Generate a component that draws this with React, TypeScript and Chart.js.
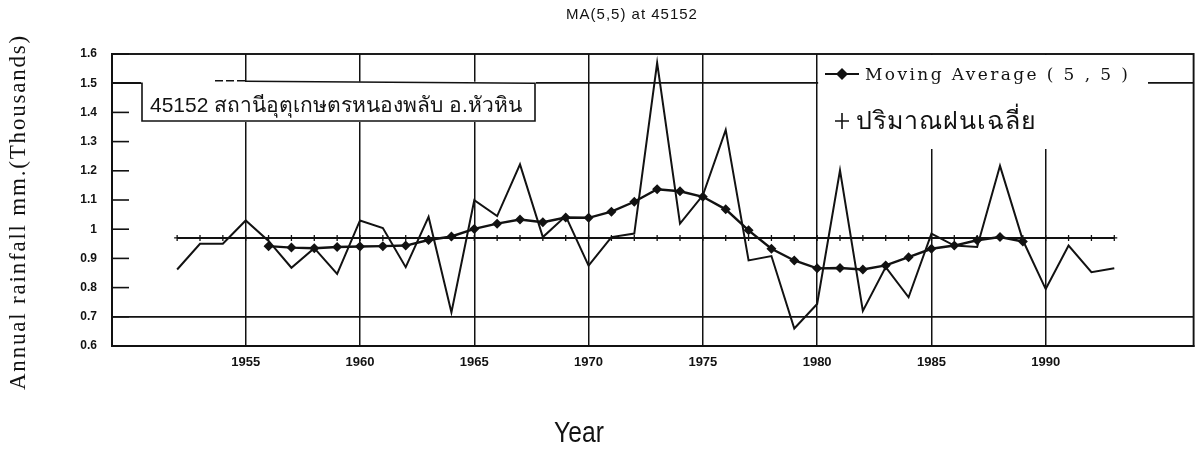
import React, { useEffect, useRef } from "react";
import { Chart, registerables } from "chart.js";

Chart.register(...registerables);

// ---------- data ----------
const years = [
  1952, 1953, 1954, 1955, 1956, 1957, 1958, 1959, 1960, 1961,
  1962, 1963, 1964, 1965, 1966, 1967, 1968, 1969, 1970, 1971,
  1972, 1973, 1974, 1975, 1976, 1977, 1978, 1979, 1980, 1981,
  1982, 1983, 1984, 1985, 1986, 1987, 1988, 1989, 1990, 1991,
  1992, 1993,
];
const rainfall = [
  0.862, 0.95, 0.95, 1.03, 0.96, 0.868, 0.935, 0.847, 1.03, 1.004,
  0.87, 1.042, 0.715, 1.099, 1.045, 1.222, 0.973, 1.045, 0.875, 0.973,
  0.985, 1.57, 1.019, 1.116, 1.34, 0.893, 0.908, 0.66, 0.744, 1.202,
  0.72, 0.87, 0.767, 0.985, 0.944, 0.939, 1.217, 0.962, 0.795, 0.944,
  0.853, 0.866,
];
const meanRainfall = [
  0.97, 0.97, 0.97, 0.97, 0.97, 0.97, 0.97, 0.97, 0.97, 0.97,
  0.97, 0.97, 0.97, 0.97, 0.97, 0.97, 0.97, 0.97, 0.97, 0.97,
  0.97, 0.97, 0.97, 0.97, 0.97, 0.97, 0.97, 0.97, 0.97, 0.97,
  0.97, 0.97, 0.97, 0.97, 0.97, 0.97, 0.97, 0.97, 0.97, 0.97,
  0.97, 0.97,
];
const maYears = [
  1956, 1957, 1958, 1959, 1960, 1961, 1962, 1963, 1964, 1965,
  1966, 1967, 1968, 1969, 1970, 1971, 1972, 1973, 1974, 1975,
  1976, 1977, 1978, 1979, 1980, 1981, 1982, 1983, 1984, 1985,
  1986, 1987, 1988, 1989,
];
const movingAverage = [
  0.942, 0.937, 0.935, 0.939, 0.941, 0.942, 0.944, 0.963, 0.975, 1.001,
  1.019, 1.033, 1.024, 1.04, 1.039, 1.06, 1.094, 1.137, 1.13, 1.111,
  1.068, 0.996, 0.933, 0.893, 0.866, 0.867, 0.862, 0.876, 0.904, 0.933,
  0.944, 0.962, 0.973, 0.958,
];
const xTickYears = [1955, 1960, 1965, 1970, 1975, 1980, 1985, 1990];
const yTickValues = [0.6, 0.7, 0.8, 0.9, 1.0, 1.1, 1.2, 1.3, 1.4, 1.5, 1.6];
const yTickLabels = ["0.6", "0.7", "0.8", "0.9", "1", "1.1", "1.2", "1.3", "1.4", "1.5", "1.6"];
const yGridValues = [0.7, 1.5];
const xRange = [1949.15, 1996.47];
const yRange = [0.6, 1.6];

const chartTitle = "MA(5,5) at 45152";
const xAxisTitle = "Year";
const yAxisTitle = "Annual rainfall mm.(Thousands)";
const stationLabel = "45152 สถานีอุตุเกษตรหนองพลับ อ.หัวหิน";
const legendLabels = ["Moving Average ( 5 , 5 )", "ปริมาณฝนเฉลี่ย"];

const INK = "#121212";

const decorPlugin = {
  id: "decor",
  beforeDatasetsDraw(chart: any) {
    const { ctx, chartArea: a, scales } = chart;
    const x = scales.x;
    const y = scales.y;
    ctx.save();
    ctx.strokeStyle = INK;
    ctx.fillStyle = INK;
    ctx.lineWidth = 1.6;
    // inner tick marks along the left border
    yTickValues.forEach((v) => {
      const py = y.getPixelForValue(v);
      ctx.beginPath();
      ctx.moveTo(a.left, py);
      ctx.lineTo(a.left + 17, py);
      ctx.stroke();
    });

    // station label box
    const top = y.getPixelForValue(1.5);
    const boxL = 142;
    const boxR = 535;
    const boxB = 121;
    ctx.fillStyle = "#fff";
    ctx.fillRect(boxL - 1, top - 1.5, boxR - boxL + 2, boxB - top + 2.5);
    ctx.strokeStyle = INK;
    ctx.lineWidth = 1.6;
    ctx.beginPath();
    ctx.moveTo(a.left, top);
    ctx.lineTo(boxL, top);
    ctx.lineTo(boxL, boxB);
    ctx.lineTo(boxR, boxB);
    ctx.lineTo(boxR, top);
    ctx.lineTo(245, top - 2);
    ctx.stroke();
    ctx.setLineDash([8, 3]);
    ctx.beginPath();
    ctx.moveTo(245, top - 2.5);
    ctx.lineTo(214, top - 2.5);
    ctx.stroke();
    ctx.setLineDash([]);
    ctx.fillStyle = INK;
    ctx.font = '21px "Liberation Sans", "Noto Sans", sans-serif';
    ctx.textBaseline = "alphabetic";
    ctx.textAlign = "left";
    ctx.fillText(stationLabel, 150, 112);

    // legend area
    const x80 = x.getPixelForValue(1980);
    ctx.fillStyle = "#fff";
    ctx.fillRect(x80 + 1, a.top + 1, 1148 - x80 - 1, 148 - a.top);
    ctx.fillStyle = INK;
    ctx.strokeStyle = INK;
    ctx.lineWidth = 2;
    ctx.beginPath();
    ctx.moveTo(825, 74);
    ctx.lineTo(859, 74);
    ctx.stroke();
    ctx.beginPath();
    ctx.moveTo(842, 68);
    ctx.lineTo(848, 74);
    ctx.lineTo(842, 80);
    ctx.lineTo(836, 74);
    ctx.closePath();
    ctx.fill();
    ctx.font = '17px "DejaVu Serif", "Liberation Serif", serif';
    (ctx as any).letterSpacing = "2.4px";
    ctx.fillText(legendLabels[0], 865, 80);
    (ctx as any).letterSpacing = "0px";
    ctx.lineWidth = 1.6;
    ctx.beginPath();
    ctx.moveTo(835, 121);
    ctx.lineTo(849, 121);
    ctx.moveTo(842, 113);
    ctx.lineTo(842, 129);
    ctx.stroke();
    ctx.font = '25px "Liberation Serif", "Noto Sans", serif';
    (ctx as any).letterSpacing = "1px";
    ctx.fillText(legendLabels[1], 856, 129);
    (ctx as any).letterSpacing = "0px";
    ctx.restore();
  },
  afterDraw(chart: any) {
    const { ctx, chartArea: a } = chart;
    ctx.save();
    ctx.strokeStyle = INK;
    ctx.lineWidth = 1.9;
    ctx.strokeRect(a.left, a.top, a.right - a.left, a.bottom - a.top);
    ctx.fillStyle = INK;
    ctx.textAlign = "center";
    ctx.textBaseline = "middle";
    // title
    ctx.font = '15px "Liberation Sans", Arial, sans-serif';
    (ctx as any).letterSpacing = "1px";
    ctx.fillText(chartTitle, 632, 15);
    // x axis title
    (ctx as any).letterSpacing = "0px";
    ctx.save();
    ctx.translate(579, 434);
    ctx.scale(0.85, 1);
    ctx.font = '29px "Liberation Sans", Arial, sans-serif';
    ctx.fillText(xAxisTitle, 0, 0);
    ctx.restore();
    // y axis title
    ctx.save();
    ctx.translate(19, 212);
    ctx.rotate(-Math.PI / 2);
    ctx.font = '23px "Liberation Serif", "Times New Roman", serif';
    (ctx as any).letterSpacing = "1.8px";
    ctx.fillText(yAxisTitle, 0, 0);
    ctx.restore();
    ctx.restore();
  },
};

export default function App() {
  const canvasRef = useRef<HTMLCanvasElement | null>(null);

  useEffect(() => {
    if (!canvasRef.current) return;
    const chart = new Chart(canvasRef.current, {
      type: "line",
      data: {
        datasets: [
          {
            label: "rainfall",
            data: years.map((yr, i) => ({ x: yr, y: rainfall[i] })),
            borderColor: INK,
            borderWidth: 2,
            pointRadius: 0,
            tension: 0,
            fill: false,
          },
          {
            label: legendLabels[1],
            data: years.map((yr, i) => ({ x: yr, y: meanRainfall[i] })),
            borderColor: INK,
            borderWidth: 2,
            pointStyle: "cross",
            pointRadius: 3,
            pointBorderWidth: 1.3,
            pointBorderColor: INK,
            tension: 0,
            fill: false,
          },
          {
            label: legendLabels[0],
            data: maYears.map((yr, i) => ({ x: yr, y: movingAverage[i] })),
            borderColor: INK,
            borderWidth: 2.4,
            pointStyle: "rectRot",
            pointRadius: 3.3,
            pointBackgroundColor: INK,
            pointBorderColor: INK,
            tension: 0,
            fill: false,
          },
        ],
      },
      options: {
        animation: false,
        responsive: false,
        layout: { padding: { top: 54, right: 5, bottom: 0, left: 0 } },
        plugins: {
          legend: { display: false },
          title: { display: false },
          tooltip: { enabled: false },
        },
        scales: {
          x: {
            type: "linear",
            min: xRange[0],
            max: xRange[1],
            afterBuildTicks: (s: any) => {
              s.ticks = xTickYears.map((v) => ({ value: v }));
            },
            afterFit: (s: any) => {
              s.height = 104;
            },
            grid: { color: INK, lineWidth: 1.5, drawTicks: false },
            border: { color: INK, width: 1.9 },
            ticks: {
              padding: 9,
              autoSkip: false,
              maxRotation: 0,
              color: INK,
              font: { family: '"Liberation Sans", Arial, sans-serif', size: 13, weight: "bold" },
              callback: (v: any) => String(v),
            },
          },
          y: {
            type: "linear",
            min: yRange[0],
            max: yRange[1],
            afterBuildTicks: (s: any) => {
              s.ticks = yTickValues.map((v) => ({ value: v }));
            },
            afterFit: (s: any) => {
              s.width = 112;
            },
            grid: {
              color: (c: any) =>
                c.tick && yGridValues.some((g) => Math.abs(g - c.tick.value) < 1e-6) ? INK : "rgba(0,0,0,0)",
              lineWidth: 1.7,
              drawTicks: false,
            },
            border: { color: INK, width: 1.9 },
            ticks: {
              padding: 15,
              color: INK,
              font: { family: '"Liberation Sans", Arial, sans-serif', size: 12, weight: "bold" },
              callback: (_v: any, i: number) => yTickLabels[i],
            },
          },
        },
      },
      plugins: [decorPlugin],
    });
    return () => chart.destroy();
  }, []);

  return (
    <div style={{ position: "absolute", left: 0, top: 0, width: 1200, height: 450, background: "#fff" }}>
      <canvas ref={canvasRef} width={1200} height={450} />
    </div>
  );
}
